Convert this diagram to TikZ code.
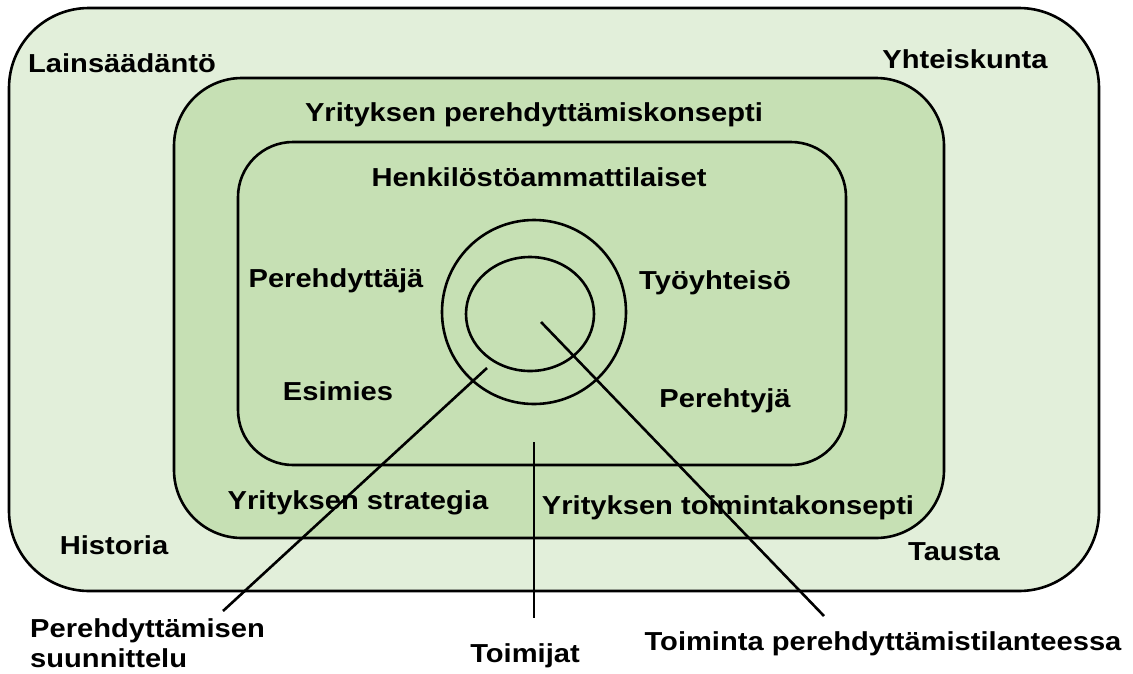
\documentclass[tikz,border=0pt]{standalone}
\usepackage{fontspec}
\setmainfont{Liberation Sans}[FakeStretch=1.12]
\definecolor{outerg}{HTML}{E2EFDA}
\definecolor{innerg}{HTML}{C6E0B4}
\begin{document}
\begin{tikzpicture}[x=1pt,y=-1pt,
  lbl/.style={font=\fontsize{26}{30}\selectfont\bfseries, inner sep=0pt, anchor=base},
  box/.style={draw=black, line width=2.6pt},
  conn/.style={draw=black, line width=2.6pt}]
\useasboundingbox (0,0) rectangle (1133,673);
\fill[white] (0,0) rectangle (1133,673);
% nested rounded boxes
\draw[box, fill=outerg, rounded corners=80pt] (9,8) rectangle (1099,591);
\draw[box, fill=innerg, rounded corners=68pt] (174,78) rectangle (944,538);
\draw[box, fill=innerg, rounded corners=55pt] (238,142) rectangle (846,465);
% rings
\draw[box] (534,312) circle [radius=92pt];
\draw[box] (530,314) ellipse [x radius=64pt, y radius=57pt];
% labels
\node[lbl] (lain) at (122,72) {Lainsäädäntö};
\node[lbl] (yht) at (965,68) {Yhteiskunta};
\node[lbl] (ypk) at (534,121) {Yrityksen perehdyttämiskonsepti};
\node[lbl] (hen) at (539,186) {Henkilöstöammattilaiset};
\node[lbl] (pja) at (336,287) {Perehdyttäjä};
\node[lbl] (tyo) at (715,289) {Työyhteisö};
\node[lbl] (esi) at (338,400) {Esimies};
\node[lbl] (pty) at (725,407) {Perehtyjä};
\node[lbl] (ystr) at (358,509) {Yrityksen strategia};
\node[lbl] (ytk) at (728,514) {Yrityksen toimintakonsepti};
\node[lbl] (his) at (114,554) {Historia};
\node[lbl] (tau) at (954,560) {Tausta};
\node[lbl, anchor=base west, align=left] (psu) at (30,667) {Perehdyttämisen\\suunnittelu};
\node[lbl] (toi) at (525,662) {Toimijat};
\node[lbl] (tpt) at (883,650) {Toiminta perehdyttämistilanteessa};
% connector ends
\coordinate (c1s) at (487,368);
\coordinate (c1e) at (223,611);
\coordinate (c2s) at (534,442);
\coordinate (c2e) at (534,618);
\coordinate (c3s) at (541,322);
\coordinate (c3e) at (824,616);
\draw[conn] (c1s) -- (c1e);
\draw[conn] (c2s) -- (c2e);
\draw[conn] (c3s) -- (c3e);
\end{tikzpicture}
\end{document}
